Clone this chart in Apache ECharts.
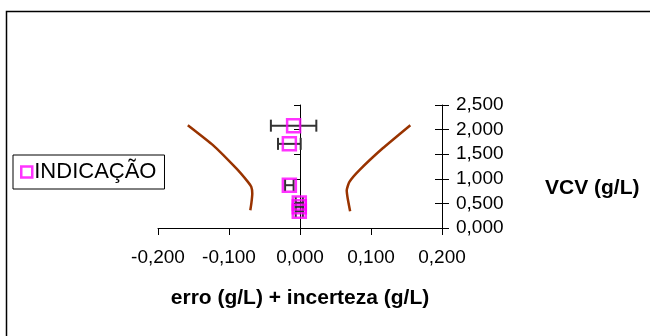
<!DOCTYPE html>
<html><head><meta charset="utf-8">
<script src="https://cdn.jsdelivr.net/npm/echarts@6/dist/echarts.min.js"></script>
<style>html,body{margin:0;padding:0;background:#fff}#c{width:650px;height:336px}</style>
</head><body><div id="c"></div>
<script>
// Tick settings
const xMin = -0.2, xMax = 0.2, xStep = 0.1;
const yMin = 0, yMax = 2.5, yStep = 0.5;
// Series "INDICAÇÃO": VCV (g/L), erro (g/L), incerteza (g/L)
const indicacaoVCV = [2.08, 1.71, 0.87, 0.51, 0.43, 0.34];
const indicacaoErro = [-0.009, -0.015, -0.015, -0.001, -0.001, -0.001];
const indicacaoIncerteza = [0.032, 0.016, 0.006, 0.005, 0.005, 0.005];
// Lower limit curve
const limInfVCV = [2.09, 1.685, 1.21, 0.937, 0.835, 0.70, 0.50, 0.36];
const limInfErro = [-0.158, -0.1226, -0.0897, -0.0734, -0.0686, -0.0672, -0.0685, -0.070];
// Upper limit curve
const limSupVCV = [2.09, 1.62, 1.176, 0.937, 0.768, 0.60, 0.34];
const limSupErro = [0.1554, 0.1165, 0.0837, 0.0696, 0.0658, 0.0672, 0.0706];

const fmt = v => (Math.abs(v) < 1e-9 ? 0 : v).toFixed(3).replace('.', ',');
const FONT = 'Liberation Sans, Arial, sans-serif';

const chart = echarts.init(document.getElementById('c'), null, {renderer: 'canvas'});
const pts = indicacaoVCV.map((y, i) => [indicacaoErro[i], y]);
const errs = indicacaoVCV.map((y, i) => [indicacaoErro[i] - indicacaoIncerteza[i], indicacaoErro[i] + indicacaoIncerteza[i], y]);

chart.setOption({
  backgroundColor: '#fff',
  animation: false,
  graphic: [
    {type: 'rect', shape: {x: 6.5, y: 11.5, width: 800, height: 500}, style: {fill: 'none', stroke: '#000', lineWidth: 1.5}, silent: true},
    {type: 'text', left: 545, top: 178, style: {text: 'VCV (g/L)', font: 'bold 21px ' + FONT, fill: '#000'}}
  ],
  legend: {
    left: 13, top: 155,
    orient: 'vertical',
    borderColor: '#000', borderWidth: 1, padding: [6, 8, 6, 7],
    itemWidth: 11, itemHeight: 11, itemGap: 4,
    textStyle: {fontFamily: FONT, fontSize: 22, color: '#000', padding: [0, 0, 0, -3]},
    data: [{name: 'INDICAÇÃO', icon: 'rect', itemStyle: {color: 'rgba(0,0,0,0)', borderColor: '#FF00FF', borderWidth: 2.5}}]
  },
  grid: {left: 158, right: 208, top: 105, bottom: 108},
  xAxis: {
    type: 'value', min: xMin, max: xMax, interval: xStep,
    axisLine: {show: true, lineStyle: {color: '#000', width: 1}},
    axisTick: {show: true, length: 7, lineStyle: {color: '#000'}},
    splitLine: {show: false},
    axisLabel: {formatter: fmt, fontFamily: FONT, fontSize: 19, color: '#000', margin: 20},
    name: 'erro (g/L) + incerteza (g/L)', nameLocation: 'middle', nameGap: 60,
    nameTextStyle: {fontFamily: FONT, fontSize: 21, fontWeight: 'bold', color: '#000'}
  },
  yAxis: [
    {
      type: 'value', min: yMin, max: yMax, interval: yStep, position: 'left',
      axisLine: {show: true, onZero: true, lineStyle: {color: '#000', width: 1}},
      axisTick: {show: true, length: 6, lineStyle: {color: '#000'}},
      axisLabel: {show: false}, splitLine: {show: false}
    },
    {
      type: 'value', min: yMin, max: yMax, interval: yStep, position: 'right',
      axisLine: {show: true, onZero: false, lineStyle: {color: '#000', width: 1}},
      axisTick: {show: true, length: 7, lineStyle: {color: '#000'}},
      axisLabel: {formatter: fmt, fontFamily: FONT, fontSize: 19, color: '#000', margin: 14},
      splitLine: {show: false}
    },
    {
      type: 'value', min: yMin, max: yMax, interval: yStep, position: 'right',
      axisLine: {show: false, onZero: false},
      axisTick: {show: true, inside: true, length: 7, lineStyle: {color: '#000'}},
      axisLabel: {show: false}, splitLine: {show: false}
    }
  ],
  series: [
    {
      name: 'limInf', type: 'line', yAxisIndex: 0, symbol: 'none', smooth: 0.15,
      lineStyle: {color: '#993300', width: 2.5},
      data: limInfVCV.map((y, i) => [limInfErro[i], y])
    },
    {
      name: 'limSup', type: 'line', yAxisIndex: 0, symbol: 'none', smooth: 0.15,
      lineStyle: {color: '#993300', width: 2.5},
      data: limSupVCV.map((y, i) => [limSupErro[i], y])
    },
    {
      name: 'erroBar', type: 'custom', yAxisIndex: 0, z: 3,
      renderItem: (params, api) => {
        const a = api.coord([api.value(0), api.value(2)]);
        const b = api.coord([api.value(1), api.value(2)]);
        const h = 6;
        const st = {stroke: '#333', lineWidth: 2};
        return {type: 'group', children: [
          {type: 'line', shape: {x1: a[0], y1: a[1], x2: b[0], y2: b[1]}, style: st},
          {type: 'line', shape: {x1: a[0], y1: a[1] - h, x2: a[0], y2: a[1] + h}, style: st},
          {type: 'line', shape: {x1: b[0], y1: b[1] - h, x2: b[0], y2: b[1] + h}, style: st}
        ]};
      },
      encode: {x: [0, 1], y: 2},
      data: errs
    },
    {
      name: 'INDICAÇÃO', type: 'scatter', yAxisIndex: 0, z: 5,
      symbol: 'rect', symbolSize: 13,
      itemStyle: {color: 'rgba(0,0,0,0)', borderColor: '#FF00FF', borderWidth: 2.5},
      data: pts
    }
  ]
});
</script></body></html>
